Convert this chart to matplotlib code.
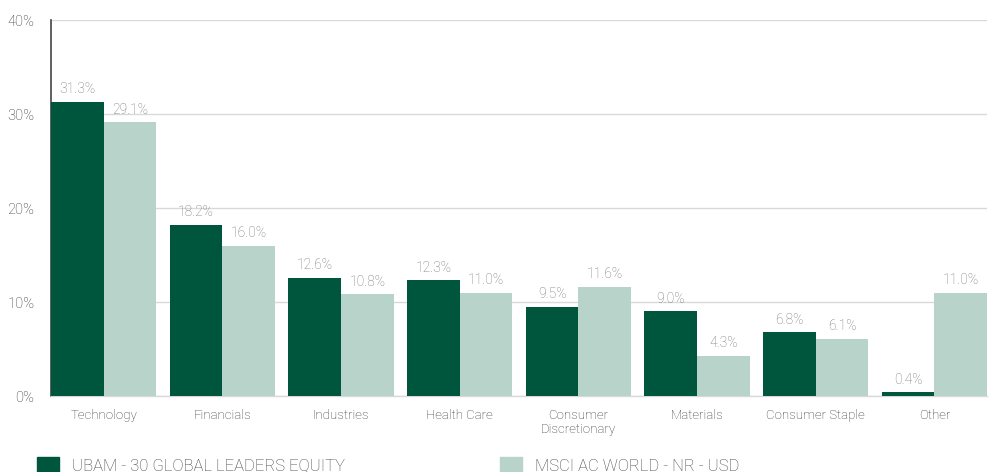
import numpy as np
import matplotlib.pyplot as plt
from matplotlib.patches import Patch

# Data
sectors = ['Technology', 'Financials', 'Industries', 'Health Care',
           'Consumer\nDiscretionary', 'Materials', 'Consumer Staple', 'Other']
fund = [31.3, 18.2, 12.6, 12.3, 9.5, 9.0, 6.8, 0.4]
index = [29.1, 16.0, 10.8, 11.0, 11.6, 4.3, 6.1, 11.0]
fund_label = 'UBAM - 30 GLOBAL LEADERS EQUITY'
index_label = 'MSCI AC WORLD - NR - USD'

dark = '#00553D'
light = '#B8D3CA'

plt.rcParams['font.family'] = ['Roboto', 'DejaVu Sans']

fig = plt.figure(figsize=(9.94, 4.72), dpi=100)
ax = fig.add_axes([51 / 994, 1 - 396 / 472, 936 / 994, 376 / 472])

x = np.arange(len(sectors))
w = 0.443
b1 = ax.bar(x - w / 2, fund, w, color=dark, zorder=3)
b2 = ax.bar(x + w / 2, index, w, color=light, zorder=3)

for bars, vals in ((b1, fund), (b2, index)):
    for r, v in zip(bars, vals):
        ax.annotate('{:.1f}%'.format(v), (r.get_x() + r.get_width() / 2, v),
                    xytext=(0, 4), textcoords='offset points', ha='center',
                    va='bottom', fontsize=10, color='#777777', fontweight='light')

ax.set_ylim(0, 40)
ax.set_xlim(-w - 0.001, len(sectors) - 1 + w + 0.001)
ax.set_yticks([0, 10, 20, 30, 40])
ax.set_yticklabels(['0%', '10%', '20%', '30%', '40%'])
ax.set_xticks(x)
ax.set_xticklabels(sectors)
ax.yaxis.grid(True, color='#d9d9d9', linewidth=1, zorder=0)
ax.tick_params(axis='x', length=0, labelsize=9.5, labelcolor='#333333', pad=9.5)
ax.tick_params(axis='y', length=0, labelsize=10.5, labelcolor='#333333', pad=12)
for lab in ax.get_xticklabels() + ax.get_yticklabels():
    lab.set_fontweight('light')
    lab.set_linespacing(1.1)

for s in ('top', 'right'):
    ax.spines[s].set_visible(False)
ax.spines['left'].set_color('#444444')
ax.spines['left'].set_linewidth(1.2)
ax.spines['bottom'].set_color('#d9d9d9')
ax.spines['bottom'].set_linewidth(1)

handles = [Patch(color=dark, label=fund_label), Patch(color=light, label=index_label)]
leg = fig.legend(handles=handles, loc='upper left', bbox_to_anchor=(0.031, 0.045),
                 ncol=2, frameon=False, fontsize=12, handlelength=1.3, handleheight=1.1,
                 columnspacing=9.3, handletextpad=0.8, borderaxespad=0)
for t in leg.get_texts():
    t.set_color('#444444')
    t.set_fontweight('light')

fig.savefig('out.png', dpi=100)
